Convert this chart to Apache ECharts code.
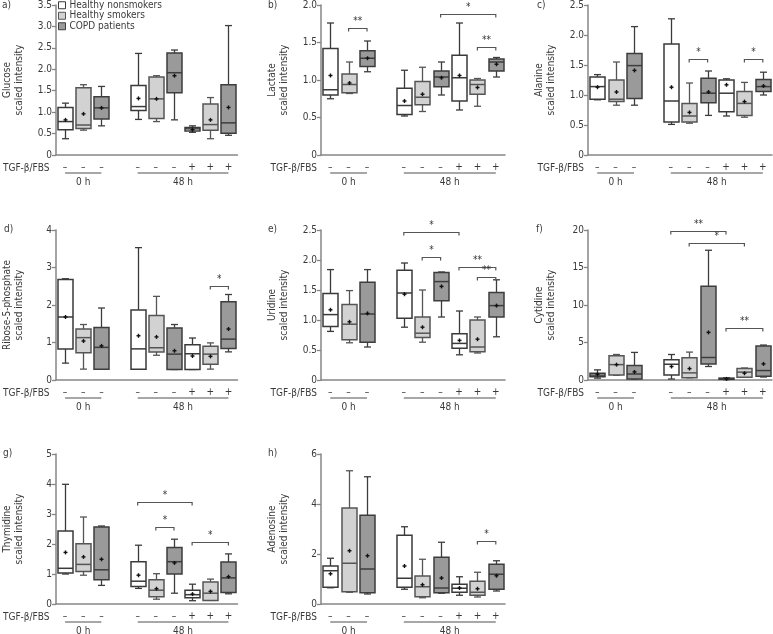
<!DOCTYPE html>
<html><head><meta charset="utf-8">
<script src="https://cdn.jsdelivr.net/npm/echarts@6/dist/echarts.min.js"></script>
<style>html,body{margin:0;padding:0;background:#fff}#c{width:773px;height:634px}</style>
</head><body><div id="c"></div>
<script>
// ---------- DATA ----------
const categories = ['0h-NS','0h-S','0h-C','gap','48h-NS','48h-S','48h-C','48h+NS','48h+S','48h+C'];
const tgfLabels = ['–','–','–','','–','–','–','+','+','+'];
const boxCategory = [0,1,2,4,5,6,7,8,9];
const groupNames = ['Healthy nonsmokers','Healthy smokers','COPD patients'];
const timeGroups = [[0,2,'0 h'],[4,9,'48 h']];

// each box: [low whisker, Q1, median, Q3, high whisker]
const glucoseBox = [[0.38,0.59,0.78,1.11,1.21],[0.58,0.62,0.70,1.57,1.64],[0.68,0.84,1.10,1.36,1.60],
  [0.83,1.04,1.13,1.62,2.37],[0.78,0.85,1.31,1.82,1.85],[0.82,1.45,1.92,2.38,2.45],
  [0.53,0.56,0.61,0.64,0.68],[0.38,0.58,0.71,1.19,1.34],[0.46,0.51,0.75,1.64,3.02]];
const glucoseMean = [0.82,0.96,1.10,1.32,1.31,1.85,0.59,0.82,1.11];
const glucoseSig = [];

const lactateBox = [[0.75,0.80,0.87,1.42,1.76],[0.82,0.83,0.94,1.08,1.24],[1.11,1.18,1.29,1.39,1.52],
  [0.52,0.54,0.66,0.89,1.13],[0.58,0.67,0.77,0.98,1.17],[0.80,0.91,1.04,1.12,1.24],
  [0.60,0.72,1.03,1.33,1.76],[0.65,0.81,0.94,1.00,1.02],[1.04,1.12,1.24,1.28,1.30]];
const lactateMean = [1.06,0.96,1.29,0.72,0.81,1.03,1.06,0.90,1.21];
const lactateSig = [[1,2,1.70,'**'],[6,9,1.88,'*'],[8,9,1.44,'**']];

const alanineBox = [[0.92,0.93,1.14,1.30,1.34],[0.83,0.89,0.93,1.25,1.55],[0.83,0.94,1.49,1.69,2.14],
  [0.51,0.55,0.90,1.85,2.27],[0.53,0.55,0.65,0.86,1.20],[0.66,0.87,1.03,1.28,1.40],
  [0.65,0.72,1.03,1.25,1.27],[0.63,0.66,0.86,1.06,1.21],[1.00,1.06,1.14,1.26,1.38]];
const alanineMean = [1.13,1.05,1.41,1.13,0.71,1.05,1.17,0.89,1.15];
const alanineSig = [[5,6,1.60,'*'],[8,9,1.60,'*']];

const riboseBox = [[0.45,0.83,1.68,2.68,2.70],[0.29,0.73,1.13,1.36,1.48],[0.29,0.29,0.87,1.40,1.92],
  [0.29,0.29,0.83,1.87,3.53],[0.66,0.75,0.86,1.72,2.23],[0.28,0.28,0.69,1.39,1.48],
  [0.28,0.28,0.70,0.94,1.12],[0.29,0.42,0.69,0.90,0.99],[0.75,0.84,1.09,2.09,2.28]];
const riboseMean = [1.68,1.04,0.91,1.18,1.15,0.78,0.64,0.63,1.36];
const riboseSig = [[8,9,2.51,'*']];

const uridineBox = [[0.81,0.89,1.09,1.44,1.84],[0.62,0.67,0.93,1.26,1.49],[0.55,0.63,1.10,1.63,1.84],
  [0.88,1.03,1.45,1.83,1.95],[0.63,0.71,0.78,1.05,1.50],[1.05,1.32,1.64,1.79,1.80],
  [0.42,0.53,0.61,0.77,1.15],[0.45,0.47,0.55,1.00,1.05],[0.72,1.05,1.24,1.46,1.67]];
const uridineMean = [1.17,0.97,1.11,1.43,0.88,1.56,0.66,0.68,1.24];
const uridineSig = [[4,7,2.46,'*'],[5,6,2.05,'*'],[7,9,1.89,'**'],[8,9,1.72,'**']];

const cytidineBox = [[0.25,0.45,0.65,0.90,1.35],[0.63,0.67,2.05,3.25,3.40],[0.13,0.13,0.80,1.93,3.68],
  [0.13,0.67,2.10,2.70,3.40],[0.30,0.30,0.95,2.96,3.72],[1.80,2.15,3.00,12.5,17.3],
  [0.05,0.10,0.15,0.25,0.30],[0.36,0.36,1.05,1.52,1.60],[0.40,0.50,1.26,4.53,4.66]];
const cytidineMean = [0.75,2.05,1.08,1.80,1.52,6.35,0.15,0.90,2.15];
const cytidineSig = [[4,7,19.9,'**'],[5,8,18.3,'*'],[7,9,6.9,'**']];

const thymidineBox = [[1.00,1.03,1.19,2.43,3.99],[0.96,1.08,1.32,2.01,2.90],[0.62,0.81,1.14,2.57,2.60],
  [0.52,0.58,0.76,1.41,1.96],[0.16,0.24,0.46,0.81,1.01],[0.36,1.00,1.41,1.88,2.16],
  [0.11,0.21,0.31,0.46,0.66],[0.12,0.12,0.36,0.73,0.83],[0.34,0.38,0.87,1.40,1.67]];
const thymidineMean = [1.72,1.57,1.49,0.96,0.51,1.37,0.33,0.42,0.91];
const thymidineSig = [[4,7,3.41,'*'],[5,6,2.57,'*'],[7,9,2.06,'*']];

const adenosineBox = [[0.65,0.67,1.33,1.52,1.83],[0.47,0.49,1.63,3.84,5.33],[0.40,0.45,1.40,3.55,5.09],
  [0.59,0.67,1.03,2.75,3.09],[0.25,0.29,0.69,1.12,1.79],[0.43,0.45,0.64,1.87,2.47],
  [0.35,0.47,0.63,0.79,1.09],[0.28,0.35,0.47,0.91,1.27],[0.52,0.59,1.19,1.59,1.73]];
const adenosineMean = [1.21,2.13,1.93,1.52,0.77,1.04,0.64,0.61,1.13];
const adenosineSig = [[8,9,2.53,'*']];

const panelLetters = ['a)','b)','c)','d)','e)','f)','g)','h)'];
const panelNames = ['Glucose','Lactate','Alanine','Ribose-5-phosphate','Uridine','Cytidine','Thymidine','Adenosine'];
const panelBoxes = [glucoseBox,lactateBox,alanineBox,riboseBox,uridineBox,cytidineBox,thymidineBox,adenosineBox];
const panelMeans = [glucoseMean,lactateMean,alanineMean,riboseMean,uridineMean,cytidineMean,thymidineMean,adenosineMean];
const panelSigs = [glucoseSig,lactateSig,alanineSig,riboseSig,uridineSig,cytidineSig,thymidineSig,adenosineSig];
const panelMax = [3.5,2.0,2.5,4,2.5,20,5,6];
const panelInterval = [0.5,0.5,0.5,1,0.5,5,1,2];
const panelDecimals = [1,1,1,0,1,0,0,0];

// ---------- LAYOUT / STYLE ----------
const FONT = "'Liberation Sans Narrow','DejaVu Sans Condensed','Liberation Sans',sans-serif";
const FS = 10;
const gridPos = [[53.5,5],[321,5],[588,5],[53.5,230],[321,230],[588,230],[53.5,454],[321,454]];
const GRID_W = 184, GRID_H = 150;
const letterPos = [[2,0],[268,0],[537,0],[4,224],[268,224],[536,224],[3,448],[268,448]];
const fill = ['#ffffff','#d2d2d2','#9a9a9a'];
const stroke = ['#3a3a3a','#555555','#3d3d3d'];
const AXIS_COLOR = '#868686', TEXT_COLOR = '#3a3a3a';
const BOX_W = 15, CAP_W = 7;

function boxRender(g){
  return function(params, api){
    const x = api.value(0);
    const pL = api.coord([x, api.value(1)]);
    const p1 = api.coord([x, api.value(2)]);
    const pM = api.coord([x, api.value(3)]);
    const p3 = api.coord([x, api.value(4)]);
    const pH = api.coord([x, api.value(5)]);
    const pMean = api.coord([x, api.value(6)]);
    const cx = Math.round(pL[0]) + 0.5, hw = BOX_W/2, cw = CAP_W/2;
    const ls = {stroke: stroke[g], lineWidth: 1.3};
    return {type:'group', children:[
      {type:'line', shape:{x1:cx,y1:pH[1],x2:cx,y2:p3[1]}, style:ls},
      {type:'line', shape:{x1:cx,y1:p1[1],x2:cx,y2:pL[1]}, style:ls},
      {type:'line', shape:{x1:cx-cw,y1:pH[1],x2:cx+cw,y2:pH[1]}, style:ls},
      {type:'line', shape:{x1:cx-cw,y1:pL[1],x2:cx+cw,y2:pL[1]}, style:ls},
      {type:'rect', shape:{x:cx-hw,y:p3[1],width:BOX_W,height:Math.max(p1[1]-p3[1],0.5)},
        style:{fill:fill[g], stroke:stroke[g], lineWidth:1.5}},
      {type:'line', shape:{x1:cx-hw,y1:pM[1],x2:cx+hw,y2:pM[1]}, style:{stroke:stroke[g], lineWidth:1.5}},
      {type:'line', shape:{x1:cx-2,y1:pMean[1],x2:cx+2,y2:pMean[1]}, style:{stroke:'#111', lineWidth:1.4}},
      {type:'line', shape:{x1:cx,y1:pMean[1]-2,x2:cx,y2:pMean[1]+2}, style:{stroke:'#111', lineWidth:1.4}}
    ]};
  };
}
function sigRender(sig){
  return function(params, api){
    const a = api.coord([api.value(0), api.value(2)]);
    const b = api.coord([api.value(1), api.value(2)]);
    const y = Math.round(a[1]) + 0.5;
    return {type:'group', children:[
      {type:'polyline', shape:{points:[[a[0],y+3],[a[0],y],[b[0],y],[b[0],y+3]]},
        style:{stroke:'#555', lineWidth:1.2, fill:null}},
      {type:'text', style:{x:(a[0]+b[0])/2, y:y-2, text:sig[params.dataIndex][3], align:'center',
        verticalAlign:'bottom', fill:'#333', font:FS+'px '+FONT}}
    ]};
  };
}
function timeRender(params, api){
  const a = api.coord([api.value(0), 0]);
  const b = api.coord([api.value(1), 0]);
  const y = Math.round(a[1]);
  return {type:'group', children:[
    {type:'line', shape:{x1:a[0],y1:y+18,x2:b[0],y2:y+18}, style:{stroke:'#8a8a8a', lineWidth:1.5}},
    {type:'text', style:{x:(a[0]+b[0])/2, y:y+27, text:timeGroups[params.dataIndex][2], align:'center',
      verticalAlign:'middle', fill:TEXT_COLOR, font:FS+'px '+FONT}}
  ]};
}

const grid = [], xAxis = [], yAxis = [], series = [], graphic = [];
panelNames.forEach((name, i) => {
  grid.push({left: gridPos[i][0], top: gridPos[i][1], width: GRID_W, height: GRID_H});
  xAxis.push({type:'category', gridIndex:i, data:categories,
    axisLine:{lineStyle:{color:AXIS_COLOR, width:1.5}},
    axisTick:{alignWithLabel:true, length:5, interval:0, lineStyle:{color:AXIS_COLOR, width:1.3}},
    axisLabel:{interval:0, margin:7, color:TEXT_COLOR, fontSize:FS, fontFamily:FONT,
      formatter:(v, idx) => tgfLabels[idx]}});
  const dec = panelDecimals[i];
  yAxis.push({type:'value', gridIndex:i, min:0, max:panelMax[i], interval:panelInterval[i],
    name: name + '\nscaled intensity', nameLocation:'middle', nameGap:31,
    nameTextStyle:{color:TEXT_COLOR, fontSize:FS, lineHeight:12, fontFamily:FONT},
    axisLine:{show:true, lineStyle:{color:AXIS_COLOR, width:1.5}},
    axisTick:{show:true, length:4, lineStyle:{color:AXIS_COLOR, width:1.3}},
    splitLine:{show:false},
    axisLabel:{margin:4, color:TEXT_COLOR, fontSize:FS, fontFamily:FONT,
      formatter: v => v === 0 ? '0' : v.toFixed(dec)}});
  for (let g = 0; g < 3; g++) {
    const data = [];
    panelBoxes[i].forEach((b, k) => {
      if (k % 3 === g) data.push([boxCategory[k], b[0], b[1], b[2], b[3], b[4], panelMeans[i][k]]);
    });
    series.push({type:'custom', name:groupNames[g], xAxisIndex:i, yAxisIndex:i,
      encode:{x:0, y:[1,5]}, renderItem:boxRender(g), data, z:3});
  }
  if (panelSigs[i].length) {
    const sig = panelSigs[i];
    series.push({type:'custom', xAxisIndex:i, yAxisIndex:i, encode:{x:[0,1], y:2}, clip:false,
      renderItem:sigRender(sig), data: sig.map(s => [s[0], s[1], s[2]]), z:4, silent:true});
  }
  series.push({type:'custom', xAxisIndex:i, yAxisIndex:i, encode:{x:[0,1]}, clip:false,
    renderItem:timeRender, data: timeGroups.map(t => [t[0], t[1]]), silent:true});
  graphic.push({type:'text', left: letterPos[i][0], top: letterPos[i][1],
    style:{text: panelLetters[i], fill:TEXT_COLOR, font:FS+'px '+FONT}});
  graphic.push({type:'text', x: gridPos[i][0] - 4, y: gridPos[i][1] + GRID_H + 13,
    style:{text:'TGF-β/FBS', fill:TEXT_COLOR, font:FS+'px '+FONT, align:'right', verticalAlign:'middle'}});
});

const chart = echarts.init(document.getElementById('c'), null, {renderer:'canvas'});
chart.setOption({
  animation:false,
  backgroundColor:'#ffffff',
  grid, xAxis, yAxis, series, graphic,
  legend:{left:58, top:0, padding:0, orient:'vertical', itemWidth:7, itemHeight:7, itemGap:0, selectedMode:false,
    textStyle:{fontSize:FS, lineHeight:10.5, color:TEXT_COLOR, fontFamily:FONT, padding:[0,0,0,-1]},
    data: groupNames.map((n, g) => ({name:n, icon:'rect',
      itemStyle:{color:fill[g], borderColor:stroke[g], borderWidth:1}}))}
});
</script></body></html>
